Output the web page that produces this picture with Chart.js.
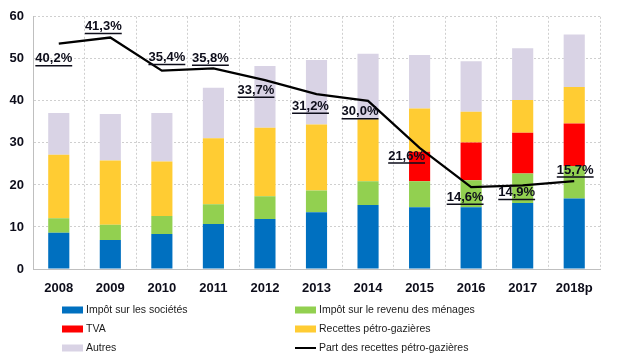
<!DOCTYPE html>
<html>
<head>
<meta charset="utf-8">
<script src="https://cdn.jsdelivr.net/npm/chart.js@4"></script>
<style>
  html, body { margin: 0; padding: 0; background: #fff; }
  #wrap { width: 639px; height: 361px; position: relative; }
</style>
</head>
<body>
<div id="wrap"><canvas id="chart"></canvas></div>
<script>
// Recettes budgétaires (Mds) et part des recettes pétro-gazières (%)
const years = ['2008', '2009', '2010', '2011', '2012', '2013', '2014', '2015', '2016', '2017', '2018p'];

const impotSocietes = [8.6, 6.9, 8.3, 10.7, 11.9, 13.5, 15.2, 14.7, 14.7, 15.7, 16.8];
const impotRevenu = [3.5, 3.6, 4.3, 4.7, 5.4, 5.2, 5.7, 6.2, 6.4, 7.0, 7.7];
const tva = [0, 0, 0, 0, 0, 0, 0, 7.0, 9.0, 9.7, 10.1];
const recettesPetro = [15.1, 15.3, 13.0, 15.7, 16.3, 15.7, 14.7, 10.3, 7.3, 7.8, 8.7];
const autres = [9.9, 11.1, 11.5, 12.0, 14.7, 15.3, 15.6, 12.7, 12.0, 12.3, 12.5];
const partPetro = [40.2, 41.3, 35.4, 35.8, 33.7, 31.2, 30.0, 21.6, 14.6, 14.9, 15.7];

const yTicks = [0, 10, 20, 30, 40, 50, 60];

// label nudges (px) relative to each line point, as placed in the original
const labelDx = [-5, -7, 5, -3, -9, -6, -8, -13, -6, -6, 1];
const labelDy = [15, -11, -13, -10, 10, 12, 11, 8, 10, 7, -11];

const COLORS = {
  blue: '#0070c0',
  green: '#92d050',
  red: '#ff0000',
  yellow: '#ffcc33',
  lavender: '#d9d3e5',
  line: '#000000',
};

const FONT = "'Liberation Sans', Arial, sans-serif";

// underlined percentage labels on the line
const lineLabels = {
  id: 'lineLabels',
  afterDatasetsDraw(chart) {
    const idx = chart.data.datasets.findIndex(d => d.type === 'line');
    const meta = chart.getDatasetMeta(idx);
    const ctx = chart.ctx;
    ctx.save();
    ctx.font = `bold 13px ${FONT}`;
    ctx.fillStyle = '#0d0d1a';
    ctx.strokeStyle = '#0d0d1a';
    ctx.textAlign = 'center';
    ctx.textBaseline = 'middle';
    ctx.lineWidth = 1.5;
    meta.data.forEach((pt, i) => {
      const text = partPetro[i].toFixed(1).replace('.', ',') + '%';
      const x = pt.x + labelDx[i];
      const y = pt.y + labelDy[i];
      ctx.fillText(text, x, y);
      const w = ctx.measureText(text).width;
      ctx.beginPath();
      ctx.moveTo(x - w / 2, y + 7);
      ctx.lineTo(x + w / 2, y + 7);
      ctx.stroke();
    });
    ctx.restore();
  },
};

// two-column legend under the chart
const gridLegend = {
  id: 'gridLegend',
  afterDraw(chart) {
    const ctx = chart.ctx;
    const cols = [62, 295];
    const rows = [310, 329, 348];
    ctx.save();
    ctx.font = `10.5px ${FONT}`;
    ctx.textBaseline = 'middle';
    ctx.textAlign = 'left';
    chart.data.datasets.forEach((ds, i) => {
      const x = cols[i % 2];
      const y = rows[Math.floor(i / 2)];
      if (ds.type === 'line') {
        ctx.strokeStyle = ds.borderColor;
        ctx.lineWidth = 2;
        ctx.beginPath();
        ctx.moveTo(x, y);
        ctx.lineTo(x + 21, y);
        ctx.stroke();
      } else {
        ctx.fillStyle = ds.backgroundColor;
        ctx.fillRect(x, y - 3.5, 21, 7);
      }
      ctx.fillStyle = '#1a1a1a';
      ctx.fillText(ds.label, x + 24, y);
    });
    ctx.restore();
  },
};

function barSet(label, data, color) {
  return {
    type: 'bar',
    label: label,
    data: data,
    backgroundColor: color,
    borderWidth: 0,
    barPercentage: 0.41,
    categoryPercentage: 1,
    yAxisID: 'y',
    order: 1,
  };
}

new Chart(document.getElementById('chart'), {
  data: {
    labels: years,
    datasets: [
      barSet('Impôt sur les sociétés', impotSocietes, COLORS.blue),
      barSet('Impôt sur le revenu des ménages', impotRevenu, COLORS.green),
      barSet('TVA', tva, COLORS.red),
      barSet('Recettes pétro-gazières', recettesPetro, COLORS.yellow),
      barSet('Autres', autres, COLORS.lavender),
      {
        type: 'line',
        label: 'Part des recettes pétro-gazières',
        data: partPetro,
        borderColor: COLORS.line,
        borderWidth: 2.25,
        pointRadius: 0,
        tension: 0,
        yAxisID: 'y1',
        order: 0,
      },
    ],
  },
  options: {
    responsive: true,
    maintainAspectRatio: false,
    animation: false,
    layout: {
      padding: { left: 0, right: 39, top: 15, bottom: 62 },
    },
    plugins: {
      legend: { display: false },
      tooltip: { enabled: false },
    },
    scales: {
      x: {
        stacked: true,
        offset: true,
        grid: {
          offset: true,
          color: '#cfcfcf',
          drawTicks: false,
        },
        border: { color: '#bfbfbf', width: 1, dash: [2, 2] },
        ticks: {
          color: '#0d0d1a',
          padding: 12,
          font: { family: FONT, size: 13, weight: 'bold' },
        },
        afterFit(scale) { scale.height = 30; },
      },
      y: {
        stacked: true,
        min: 0,
        max: 60,
        afterBuildTicks(scale) { scale.ticks = yTicks.map(v => ({ value: v })); },
        grid: {
          color: '#cfcfcf',
          drawTicks: false,
        },
        border: { color: '#bfbfbf', width: 1, dash: [2, 2] },
        ticks: {
          color: '#0d0d1a',
          padding: 9,
          font: { family: FONT, size: 13, weight: 'bold' },
        },
        afterFit(scale) { scale.width = 33; },
      },
      y1: {
        display: false,
        min: 0,
        max: 45,
      },
    },
  },
  plugins: [lineLabels, gridLegend],
});
</script>
</body>
</html>
